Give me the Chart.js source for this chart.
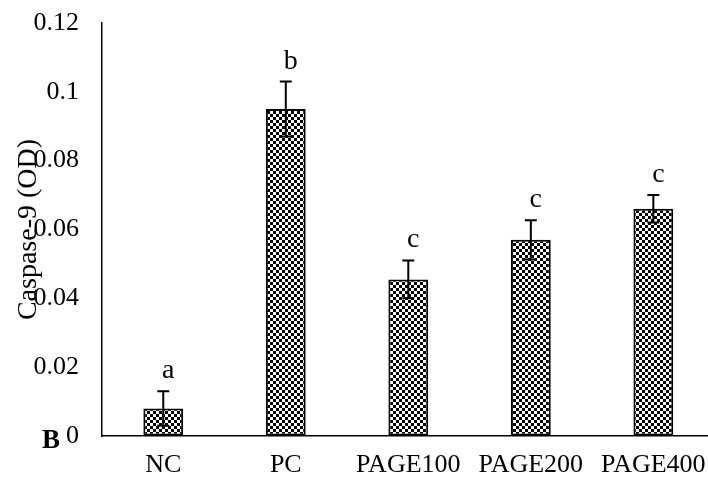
<!DOCTYPE html>
<html>
<head>
<meta charset="utf-8">
<script src="https://cdn.jsdelivr.net/npm/chart.js@4.4.1/dist/chart.umd.min.js"></script>
<style>
  html, body { margin:0; padding:0; background:#fff; overflow:hidden; }
  #wrap { width:720px; height:481px; }
</style>
</head>
<body>
<div id="wrap"><canvas id="c"></canvas></div>
<script>
// data
const groups     = ['NC', 'PC', 'PAGE100', 'PAGE200', 'PAGE400'];
const meanOD     = [0.008, 0.095, 0.0455, 0.057, 0.066];
const sdOD       = [0.005, 0.008, 0.0055, 0.0057, 0.004];
const sigLetters = ['a', 'b', 'c', 'c', 'c'];
const yTicks     = [0, 0.02, 0.04, 0.06, 0.08, 0.1, 0.12];

const SERIF = '"Liberation Serif", "Times New Roman", serif';

// checkerboard fill like the excel pattern
function checker(){
  const p = document.createElement('canvas');
  p.width = 6; p.height = 6;
  const g = p.getContext('2d');
  g.fillStyle = '#fff'; g.fillRect(0, 0, 6, 6);
  g.fillStyle = '#000';
  g.fillRect(0, 0, 3, 3);
  g.fillRect(3, 3, 3, 3);
  return document.getElementById('c').getContext('2d').createPattern(p, 'repeat');
}

// error bars + letters + panel mark "B"
const extras = {
  id: 'extras',
  afterDatasetsDraw(chart){
    const ctx = chart.ctx;
    const y = chart.scales.y;
    const meta = chart.getDatasetMeta(0);
    ctx.save();
    ctx.strokeStyle = '#000';
    ctx.fillStyle = '#000';
    ctx.lineWidth = 2;
    meta.data.forEach((bar, i) => {
      const x = bar.x;
      const top = y.getPixelForValue(meanOD[i] + sdOD[i]);
      const bot = y.getPixelForValue(meanOD[i] - sdOD[i]);
      ctx.beginPath();
      ctx.moveTo(x, top); ctx.lineTo(x, bot);
      ctx.moveTo(x - 6, top); ctx.lineTo(x + 6, top);
      ctx.moveTo(x - 6, bot); ctx.lineTo(x + 6, bot);
      ctx.stroke();

      ctx.font = '28px ' + SERIF;
      ctx.textAlign = 'center';
      ctx.textBaseline = 'alphabetic';
      ctx.fillText(sigLetters[i], x + 5, top - 13);
    });
    ctx.font = 'bold 27px ' + SERIF;
    ctx.textAlign = 'left';
    ctx.fillText('B', 42, 448);
    ctx.restore();
  }
};

new Chart(document.getElementById('c'), {
  type: 'bar',
  data: {
    labels: groups,
    datasets: [{
      data: meanOD,
      backgroundColor: checker(),
      borderColor: '#000',
      borderWidth: 2,
      borderSkipped: false,
      categoryPercentage: 1,
      barPercentage: 0.325
    }]
  },
  options: {
    responsive: true,
    maintainAspectRatio: false,
    animation: false,
    layout: { padding: { top: 23, right: 4, left: 0, bottom: 0 } },
    plugins: { legend: { display: false }, tooltip: { enabled: false } },
    scales: {
      x: {
        grid: { display: true, color: 'rgba(0,0,0,0)', drawTicks: false, drawOnChartArea: false },
        border: { color: '#000', width: 1.5 },
        ticks: { color: '#000', font: { family: SERIF, size: 26 }, padding: 14, maxRotation: 0, autoSkip: false },
        afterFit: s => { s.height = 45; }
      },
      y: {
        min: 0, max: 0.12,
        grid: { display: true, color: 'rgba(0,0,0,0)', drawTicks: false, drawOnChartArea: false },
        border: { color: '#000', width: 1.5 },
        afterBuildTicks: s => { s.ticks = yTicks.map(v => ({ value: v })); },
        ticks: { color: '#000', font: { family: SERIF, size: 26 }, padding: 23, callback: v => String(v) },
        title: { display: true, text: 'Caspase-9 (OD)', color: '#000', font: { family: SERIF, size: 28 }, padding: { top: 12, bottom: 0 } },
        afterFit: s => { s.width = 102; s.paddingTop = 0; s.paddingBottom = 0; }
      }
    }
  },
  plugins: [extras]
});
</script>
</body>
</html>
